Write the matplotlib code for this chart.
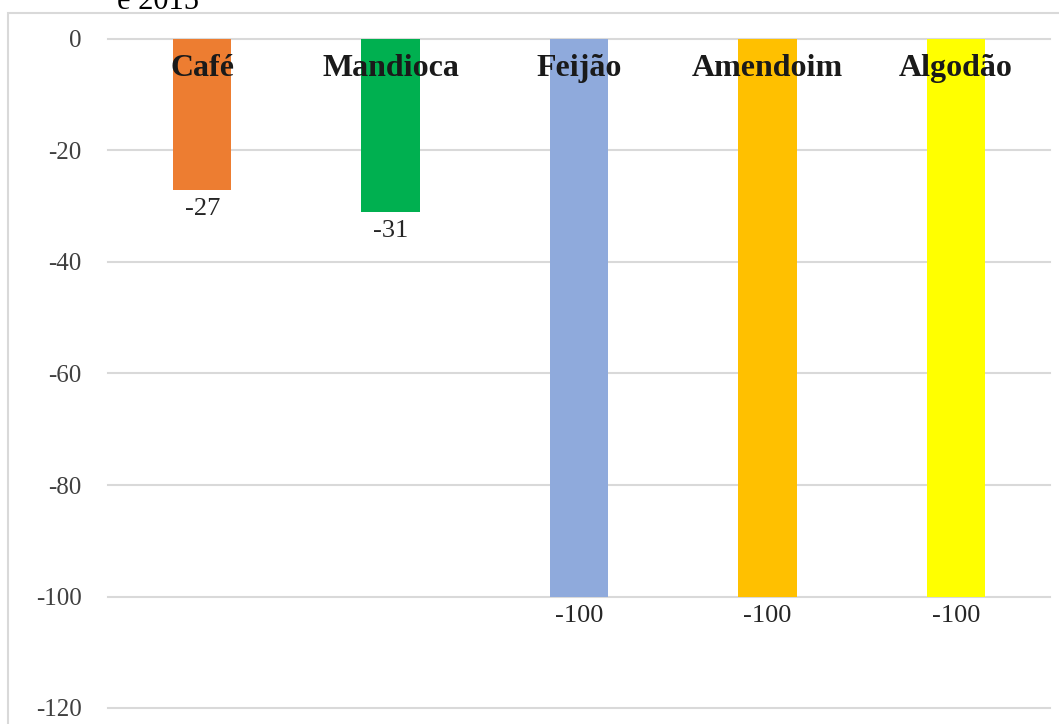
import matplotlib
matplotlib.use("Agg")
import matplotlib.pyplot as plt
from matplotlib.patches import Rectangle

# dados
culturas = ["Café", "Mandioca", "Feijão", "Amendoim", "Algodão"]
variacao = [-27, -31, -100, -100, -100]
cores = ["#ED7D31", "#00B050", "#8FAADC", "#FFC000", "#FFFF00"]
yticks = [0, -20, -40, -60, -80, -100, -120]

plt.rcParams["font.family"] = ["Liberation Serif", "DejaVu Serif"]

fig = plt.figure(figsize=(10.59, 7.24), dpi=100)

# moldura do gráfico
fig.patches.append(Rectangle((8 / 1059, -0.01), 1.0, 1 - 13 / 724 + 0.01,
                             transform=fig.transFigure, fill=False,
                             edgecolor="#d9d9d9", linewidth=1.5))

# titulo cortado no topo (como no original)
fig.text(117 / 1059, 1 - 9 / 724, "e 2015", fontsize=22, color="#000000",
         ha="left", va="baseline")

ax = fig.add_axes([108 / 1059, 1 - 708 / 724, 942 / 1059, 669 / 724])
x = range(len(culturas))
ax.bar(x, variacao, width=0.31, color=cores, zorder=2)

ax.set_ylim(-120, 0)
ax.set_xlim(-0.5, len(culturas) - 0.5)
ax.set_yticks(yticks)
ax.set_yticklabels([str(t) for t in yticks])
ax.set_xticks([])
for s in ax.spines.values():
    s.set_visible(False)
ax.yaxis.grid(True, color="#d9d9d9", linewidth=1.5, zorder=0)
for gl in ax.get_ygridlines():
    gl.set_clip_on(False)
ax.tick_params(axis="y", length=0, pad=19, labelsize=18, labelcolor="#404040")

# rotulos das categorias (em cima)
for i, nome in enumerate(culturas):
    ax.text(i, -5.3, nome, ha="center", va="center", fontsize=23,
            fontweight="bold", color="#1a1a1a", zorder=3)

# rotulos dos valores
for i, v in enumerate(variacao):
    ax.annotate(str(v), (i, v), xytext=(0, -6), textcoords="offset points",
                ha="center", va="top", fontsize=19, color="#262626")

fig.savefig("out.png", dpi=100)
